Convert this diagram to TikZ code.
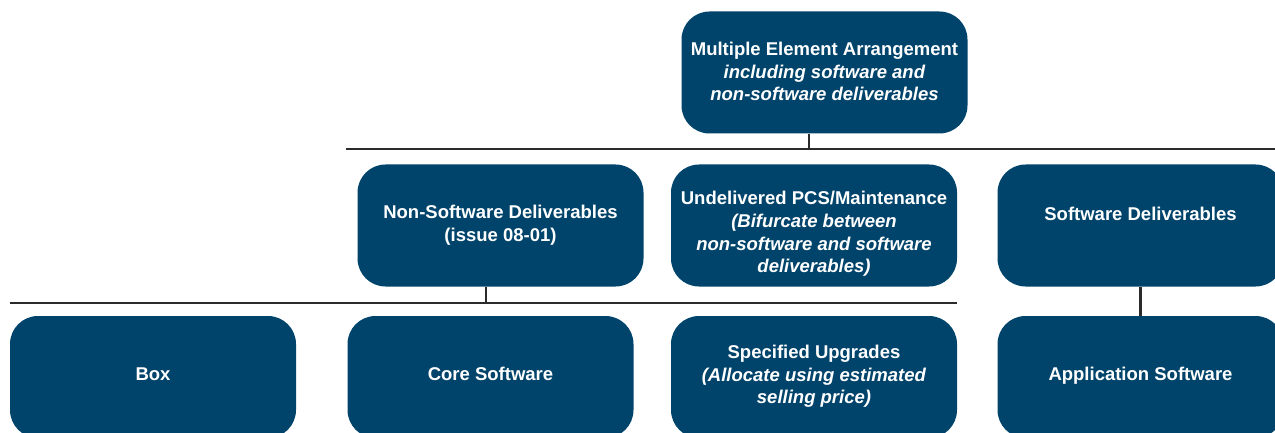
\documentclass[tikz,border=0pt]{standalone}
\usepackage{fontspec}
\setmainfont{Liberation Sans}
\definecolor{cardblue}{RGB}{0,68,107}
\definecolor{wirecolor}{RGB}{43,43,43}
\begin{document}
\begin{tikzpicture}[x=1pt,y=-1pt,
  card/.style={fill=cardblue, draw=none, rounded corners=28pt,
    minimum width=286pt, minimum height=122pt, inner sep=0pt},
  cardtext/.style={text=white, font=\fontsize{18.5}{22.6}\selectfont\bfseries,
    align=center, inner sep=0pt},
  wire/.style={draw=wirecolor, line width=2.6pt}]
\useasboundingbox (0,0) rectangle (1275,433);
\clip (0,0) rectangle (1275,433);

% cards
\node[card] (mea)  at (824.5,72.5)  {};
\node[card] (nsd)  at (500.5,225.5) {};
\node[card] (pcs)  at (814,225.5)   {};
\node[card] (swd)  at (1140.5,225.5) {};
\node[card] (box)  at (153,377)     {};
\node[card] (core) at (490.5,377)   {};
\node[card] (upg)  at (814,377)     {};
\node[card] (app)  at (1140.5,377)  {};

% card labels
\node[cardtext] (meaT) at ([yshift=1pt]mea.center)
  {Multiple Element Arrangement\\ \textit{including software and}\\ \textit{non-software deliverables}};
\node[cardtext] (nsdT) at ([yshift=0pt]nsd.center)
  {Non-Software Deliverables\\ (issue 08-01)};
\node[cardtext] (pcsT) at ([yshift=-8.5pt]pcs.center)
  {Undelivered PCS/Maintenance\\ \textit{(Bifurcate between}\\ \textit{non-software and software}\\ \textit{deliverables)}};
\node[cardtext] (swdT) at ([yshift=12pt]swd.center) {Software Deliverables};
\node[cardtext] (boxT) at ([yshift=3pt]box.center) {Box};
\node[cardtext] (coreT) at ([yshift=3pt]core.center) {Core Software};
\node[cardtext] (upgT) at ([yshift=0.5pt]upg.center)
  {Specified Upgrades\\ \textit{(Allocate using estimated}\\ \textit{selling price)}};
\node[cardtext] (appT) at ([yshift=1pt]app.center) {Application Software};

% bus lines
\coordinate (busTopL) at (346,149);
\coordinate (busTopR) at (1275,149);
\coordinate (busLowL) at (10,303);
\coordinate (busLowR) at (957,303);
\draw[wire] (busTopL) -- (busTopR);
\draw[wire] (busLowL) -- (busLowR);

% drops
\draw[wire] ([xshift=-15.5pt]mea.south) -- ([xshift=-15.5pt]mea.south |- busTopL);
\draw[wire] ([xshift=-14.5pt]nsd.south) -- ([xshift=-14.5pt]nsd.south |- busLowL);
\draw[wire] (swd.south) -- (app.north);
\end{tikzpicture}
\end{document}
